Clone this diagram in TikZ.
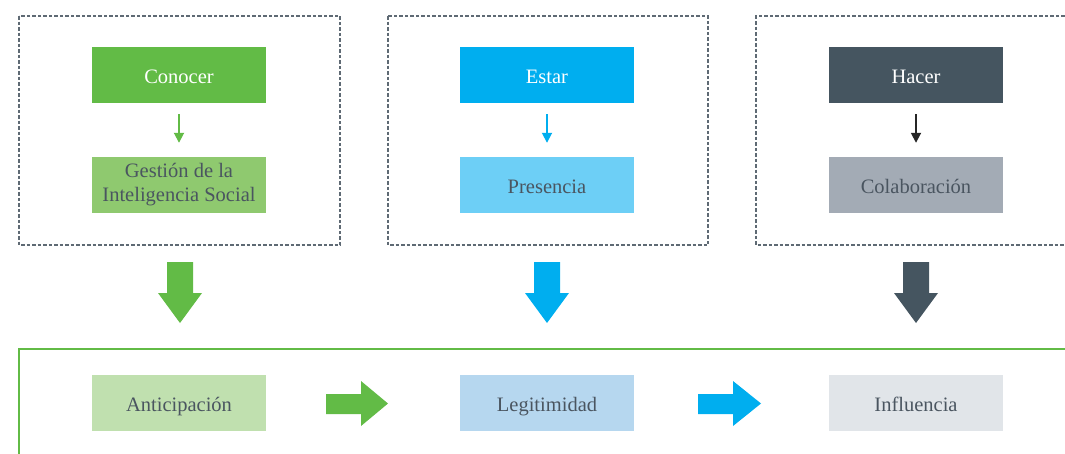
\documentclass[tikz,border=0pt]{standalone}
\usepackage{fontspec}
\setmainfont{Liberation Serif}
\usetikzlibrary{arrows.meta}
\definecolor{gA}{HTML}{62BB46}
\definecolor{gB}{HTML}{8FC96F}
\definecolor{gC}{HTML}{C0E0AF}
\definecolor{bA}{HTML}{00AEEF}
\definecolor{bB}{HTML}{6DCFF6}
\definecolor{bC}{HTML}{B6D7EF}
\definecolor{dA}{HTML}{455560}
\definecolor{dB}{HTML}{A3ABB5}
\definecolor{dC}{HTML}{E1E5E9}
\definecolor{txt}{HTML}{4A5560}
\definecolor{dashc}{HTML}{5F6A74}
\begin{document}
\begin{tikzpicture}[x=1pt,y=-1pt,
  box/.style={minimum width=174pt,minimum height=56pt,inner sep=0pt,align=center,font=\fontsize{20.5}{24}\selectfont},
  one/.style={box,text height=16pt,text depth=0pt},
  frame/.style={draw=dashc,line width=1.3pt,dash pattern=on 3.5pt off 2pt},
  smallarr/.style={line width=1.8pt,-{Triangle[length=10pt,width=10pt]}}]
\useasboundingbox (0,0) rectangle (1065,453);
% frames
\draw[frame] (19,16) rectangle (340,245);
\draw[frame] (388,16) rectangle (708,245);
\draw[frame] (1070,16) -- (756,16) -- (756,245) -- (1070,245);
% top boxes
\node[one,fill=gA,text=white] (con) at (179,75) {Conocer};
\node[box,fill=gB,text=txt] (ges) at (179,185) {Gestión de la\\Inteligencia Social};
\node[one,fill=bA,text=white] (est) at (547,75) {Estar};
\node[one,fill=bB,text=txt] (pre) at (547,185) {Presencia};
\node[one,fill=dA,text=white] (hac) at (916,75) {Hacer};
\node[one,fill=dB,text=txt] (col) at (916,185) {Colaboración};
\draw[smallarr,draw=gA,fill=gA] ([yshift=-11pt]con.south) -- ([yshift=14pt]ges.north);
\draw[smallarr,draw=bA,fill=bA] ([yshift=-11pt]est.south) -- ([yshift=14pt]pre.north);
\draw[smallarr,draw=black!85,fill=black!85] ([yshift=-11pt]hac.south) -- ([yshift=14pt]col.north);
% big down arrows
\foreach \cx/\c in {180/gA,547/bA,916/dA}{
  \fill[\c] (\cx-13,262) -- (\cx+13,262) -- (\cx+13,293) -- (\cx+22,293) -- (\cx,323) -- (\cx-22,293) -- (\cx-13,293) -- cycle;
}
% bottom frame
\draw[draw=gA,line width=1.4pt] (19,456) -- (19,349) -- (1070,349);
\node[one,fill=gC,text=txt] (ant) at (179,403) {Anticipación};
\node[one,fill=bC,text=txt] (leg) at (547,403) {Legitimidad};
\node[one,fill=dC,text=txt] (inf) at (916,403) {Influencia};
% right arrows
\fill[gA] (326,394) -- (361,394) -- (361,381) -- (388,403.5) -- (361,426) -- (361,414) -- (326,414) -- cycle;
\fill[bA] (698,394) -- (733,394) -- (733,381) -- (761,403.5) -- (733,426) -- (733,414) -- (698,414) -- cycle;
\end{tikzpicture}
\end{document}
